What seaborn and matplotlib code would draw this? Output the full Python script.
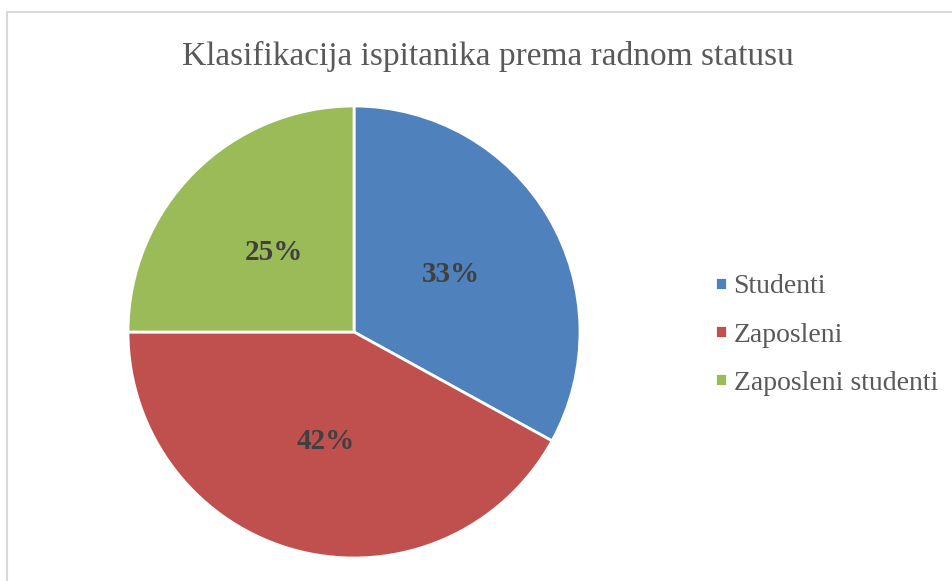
import matplotlib
matplotlib.use("Agg")
import matplotlib.pyplot as plt
from matplotlib.patches import Rectangle
import seaborn as sns

title = "Klasifikacija ispitanika prema radnom statusu"
categories = ["Studenti", "Zaposleni", "Zaposleni studenti"]
shares = [33, 42, 25]
colors = ["#4F81BD", "#C0504D", "#9BBB59"]

sns.set_theme(style="white")
plt.rcParams['font.family'] = ['Liberation Serif', 'DejaVu Serif']

W, H = 953, 581
fig = plt.figure(figsize=(W / 100, H / 100), dpi=100)

# outer chart border (cut off on the right and bottom like the screenshot)
fig.patches.append(Rectangle((7 / W, -0.1), 1.2, 1 - 12 / H + 0.1,
                             transform=fig.transFigure, fill=False,
                             edgecolor="#D9D9D9", linewidth=1.5))

cx, cy, r = 354, 332, 226
ax = fig.add_axes([(cx - r) / W, (H - cy - r) / H, 2 * r / W, 2 * r / H])

wedges, texts, autotexts = ax.pie(
    shares, colors=colors, startangle=90, counterclock=False,
    autopct="%d%%", pctdistance=0.5,
    wedgeprops=dict(edgecolor="white", linewidth=2),
    textprops=dict(color="#404040", fontsize=21, fontweight="bold"))
ax.set_xlim(-1, 1)
ax.set_ylim(-1, 1)
ax.set_aspect("auto")
ax.axis("off")

fig.text(488 / W, 1 - 56 / H, title, ha="center", va="center",
         fontsize=24, color="#595959")

leg = fig.legend(wedges, categories, loc="center left",
                 bbox_to_anchor=(690 / W, 1 - 335 / H), frameon=False,
                 fontsize=20, handlelength=0.42, handleheight=0.33,
                 handletextpad=0.25, labelspacing=0.83, labelcolor="#595959")

fig.savefig("out.png", dpi=100)
